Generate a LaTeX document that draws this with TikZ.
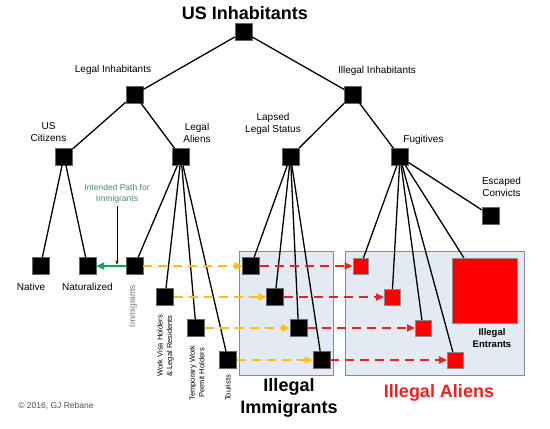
\documentclass[tikz,border=0pt]{standalone}
\usepackage{fontspec}
\setmainfont{Liberation Sans}
\usetikzlibrary{arrows.meta, positioning}
\definecolor{boxfill}{RGB}{228,234,244}
\definecolor{boxline}{RGB}{135,140,148}
\definecolor{pathyellow}{RGB}{255,192,0}
\definecolor{pathred}{RGB}{240,32,32}
\definecolor{pathgreen}{RGB}{0,176,80}
\definecolor{notegreen}{RGB}{70,140,105}

\begin{document}
\begin{tikzpicture}[x=1pt,y=-1pt,>={Triangle[length=8pt,width=7pt]},
        every node/.style={font=\fontsize{10}{12}\selectfont, align=center},
        sq/.style={draw=black!60, fill=black, minimum size=17pt, inner sep=0pt},
        redsq/.style={draw=black!45, fill=red, minimum size=15.5pt, inner sep=0pt},
        group/.style={draw=boxline, fill=boxfill, line width=0.8pt, inner sep=0pt},
        tree/.style={line width=1.3pt},
        yellowpath/.style={draw=pathyellow, line width=1.7pt, dash pattern=on 9pt off 6pt},
        redpath/.style={draw=pathred, line width=1.7pt, dash pattern=on 9pt off 6pt},
        sidelabel/.style={rotate=90, font=\fontsize{7.5}{9.5}\selectfont}]
    \useasboundingbox (0,0) rectangle (550,429);

      % group boxes
      \node[group, minimum width=94pt, minimum height=124pt]  (immbox) at (286,313)   {};
      \node[group, minimum width=179pt, minimum height=124pt] (alienbox) at (434.5,313) {};

      % tree
      \node[sq] (root)   at (243.5,32)  {};
      \node[sq] (legin)  at (134.5,94.5) {};
      \node[sq] (illin)  at (353,94.5)  {};
      \node[sq] (uscit)  at (64,156.5)  {};
      \node[sq] (legal)  at (181,157)   {};
      \node[sq] (lapsed) at (290.5,156.5) {};
      \node[sq] (fugit)  at (400,157)   {};
      \node[sq] (convict) at (490.5,215.5) {};
      \node[sq] (native) at (40.5,266)  {};
      \node[sq] (natur)  at (87.5,266)  {};
      \node[sq] (immig)  at (134.5,266) {};
      \node[sq] (work)   at (165,297)   {};
      \node[sq] (temp)   at (196,328)   {};
      \node[sq] (tour)   at (228,360)   {};

      % illegal immigrants
      \node[sq] (ii1) at (251,266)   {};
      \node[sq] (ii2) at (275,297)   {};
      \node[sq] (ii3) at (298.5,328) {};
      \node[sq] (ii4) at (321.5,360) {};

      % illegal aliens
      \node[redsq] (ia1) at (360.5,266) {};
      \node[redsq] (ia2) at (392,297)   {};
      \node[redsq] (ia3) at (423,328)   {};
      \node[redsq] (ia4) at (455,360)   {};
      \node[redsq, minimum size=65pt] (entrants) at (484.5,290.5) {};

      \path[tree] (root) edge (legin) edge (illin)
                (legin) edge (uscit) edge (legal)
                (illin) edge (lapsed) edge (fugit)
                (uscit) edge (native) edge (natur)
                (legal) edge (immig) edge (work) edge (temp) edge (tour)
                (lapsed) edge (ii1) edge (ii2) edge (ii3) edge (ii4)
                (fugit) edge (ia1) edge (ia2) edge (ia3) edge (ia4)
                        edge (entrants) edge (convict);

      \path[yellowpath, ->, pathyellow] (immig) edge (ii1)
                (work) edge (ii2)
                (temp) edge (ii3)
                (tour) edge (ii4);
      \path[redpath, ->, pathred] (ii1) edge (ia1)
                (ii2) edge (ia2)
                (ii3) edge (ia3)
                (ii4) edge (ia4);
      \draw[pathgreen, line width=1.7pt, ->] (immig) -- (natur);

      % labels
      \node[font=\bfseries\fontsize{18}{20}\selectfont] (title) at (245,13) {US Inhabitants};
      \node (leginlbl)  at (113,70)    {Legal Inhabitants};
      \node (illinlbl)  at (377,71)    {Illegal Inhabitants};
      \node (uscitlbl)  at (48.5,132)  {US\\Citizens};
      \node (legallbl)  at (197,133)   {Legal\\Aliens};
      \node (lapsedlbl) at (273,124)   {Lapsed\\Legal Status};
      \node (fugitlbl)  at (423.5,140) {Fugitives};
      \node (convictlbl) at (501.5,186.5) {Escaped\\Convicts};
      \node (nativelbl) at (31,287)    {Native};
      \node (naturlbl)  at (87.5,287)  {Naturalized};
      \node[rotate=90, text=black!55, font=\fontsize{8.5}{10}\selectfont] (immiglbl) at (133,306) {Immigrants};
      \node[sidelabel] (worklbl) at (165.5,346) {Work Visa Holders\\\& Legal Residents};
      \node[sidelabel] (templbl) at (197,373)   {Temporary Work\\Permit Holders};
      \node[sidelabel] (tourlbl) at (228,388)   {Tourists};
      \node[font=\bfseries\fontsize{9.5}{12.5}\selectfont] (entrantslbl) at (492,338) {Illegal\\Entrants};
      \node[font=\bfseries\fontsize{18}{22}\selectfont] (immboxlbl) at (289,398) {Illegal\\Immigrants};
      \node[font=\bfseries\fontsize{18}{20}\selectfont, text=pathred] (alienboxlbl) at (439,393) {Illegal Aliens};
      \node[text=notegreen, font=\fontsize{8.5}{11}\selectfont] (notelbl) at (117,193.5) {Intended Path for\\Immigrants};
      \node[text=black!70, font=\fontsize{8.5}{10}\selectfont] (copy) at (56,406) {© 2016, GJ Rebane};

      \coordinate (pathmark) at (117,264.5);
      \draw[->, >={Stealth[length=4pt,width=3pt]}, line width=0.5pt] (notelbl.south) -- (pathmark);
    \end{tikzpicture}
\end{document}
